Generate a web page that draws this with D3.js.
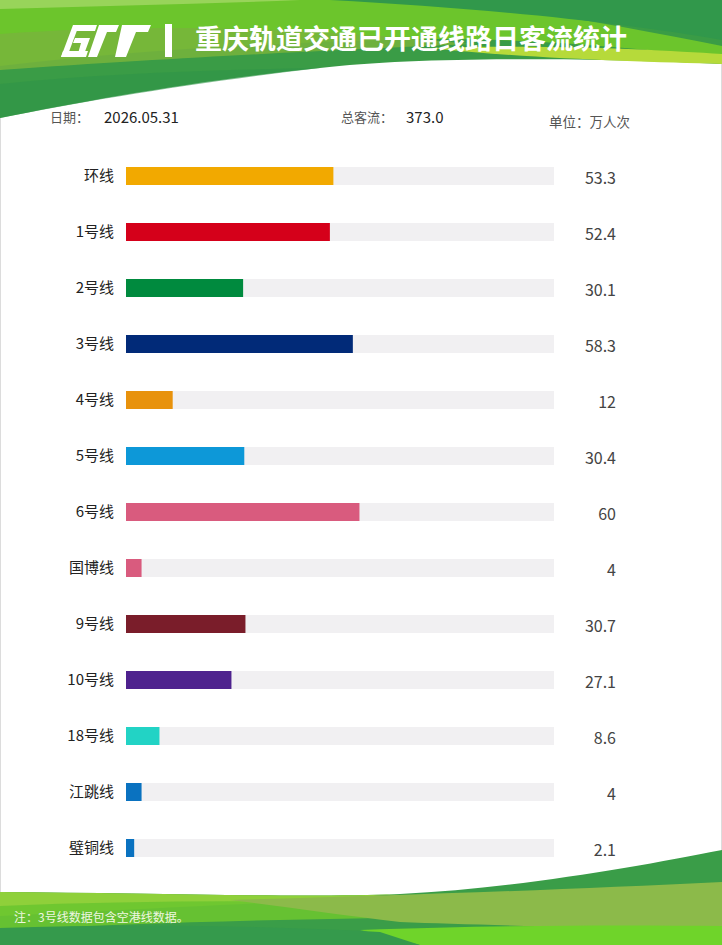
<!DOCTYPE html>
<html>
<head>
<meta charset="utf-8">
<script src="https://cdn.jsdelivr.net/npm/d3@7/dist/d3.min.js"></script>
<style>
html,body{margin:0;padding:0;background:#fff;}
svg{display:block;}
text{font-family:"Noto Sans CJK SC","Noto Sans",sans-serif;}
</style>
</head>
<body>
<div id="chart"></div>
<script>
const lines = ["环线","1号线","2号线","3号线","4号线","5号线","6号线","国博线","9号线","10号线","18号线","江跳线","璧铜线"];
const flows = [53.3,52.4,30.1,58.3,12,30.4,60,4,30.7,27.1,8.6,4,2.1];
const valueLabels = ["53.3","52.4","30.1","58.3","12","30.4","60","4","30.7","27.1","8.6","4","2.1"];
const lineColors = ["#f2a900","#d5001a","#008a3e","#012a78","#e8920c","#0d98d8","#d95b7e","#d95b7e","#7a1d2a","#4e228e","#22d3c5","#0a72c0","#0a72c0"];
const title = "重庆轨道交通已开通线路日客流统计";
const dateLabel = "日期：", dateValue = "2026.05.31";
const totalLabel = "总客流：", totalValue = "373.0";
const unitLabel = "单位：万人次";
const note = "注：3号线数据包含空港线数据。";

const W = 722, H = 945;
const svg = d3.select("#chart").append("svg").attr("width", W).attr("height", H);

svg.append("rect").attr("x",0.5).attr("y",0.5).attr("width",W-1).attr("height",H-1)
  .attr("fill","#fff").attr("stroke","#dcdcdc");

// ---------- header decoration ----------
const hdr = svg.append("g");
hdr.append("path").attr("d","M0,0 H722 V64 C600,58 420,56 320,68 C200,80 90,100 0,118 Z").attr("fill","#3a9c46");
hdr.append("path").attr("d","M0,0 H430 C540,10 640,30 722,46 V58 C620,46 500,36 380,40 C250,44 120,52 0,66 Z").attr("fill","#6cc52c");
hdr.append("path").attr("d","M0,34 C140,24 300,26 470,44 C340,50 200,56 0,70 Z").attr("fill","#78b43c").attr("opacity",0.85);
hdr.append("path").attr("d","M330,0 H722 V40 C620,22 480,8 330,0 Z").attr("fill","#31984b");
hdr.append("path").attr("d","M430,48 C560,44 660,50 722,54 V64 C640,62 520,58 430,48 Z").attr("fill","#b6da3a");
hdr.append("path").attr("d","M0,0 H300 C200,4 100,6 0,9 Z").attr("fill","#98d45a");
hdr.append("path").attr("d","M0,84 C100,74 200,70 320,68 C200,82 90,100 0,118 Z").attr("fill","#2f9447").attr("opacity",0.6);

// logo
const logo = svg.append("g").attr("fill","#fff");
[
 "M75,25 L97,25 L95,31 L73,31 Z",
 "M73,25 L79,25 L67,57 L61,57 Z",
 "M63,51 L88,51 L86,57 L61,57 Z",
 "M75,38 L90,38 L83,57 L77,57 L81,43 L73,43 Z",
 "M99,25 L119,25 L116,32 L107,32 L97,57 L88,57 Z",
 "M122,25 L151,25 L148,32 L136,32 L126,57 L115,57 Z"
].forEach(d => logo.append("path").attr("d", d));
svg.append("rect").attr("x",165).attr("y",24).attr("width",7).attr("height",33).attr("fill","#fff");

svg.append("text").attr("x",195).attr("y",49).attr("fill","#fff")
  .attr("font-size",27).attr("font-weight","bold").text(title);

// ---------- footer decoration ----------
const ftr = svg.append("g");
ftr.append("path").attr("d","M0,892 C150,893 300,898 400,894 C520,888 640,866 722,850 V945 H0 Z").attr("fill","#3a9d48");
ftr.append("path").attr("d","M0,892 C150,893 300,898 400,894 C300,902 200,906 120,910 C80,912 40,914 0,916 Z").attr("fill","#8fd03a");
ftr.append("path").attr("d","M0,906 C150,900 300,900 460,905 C560,905 650,900 722,895 V925 C600,926 500,922 380,918 C250,920 120,924 0,930 Z").attr("fill","#6cc530").attr("opacity",0.9);
ftr.append("path").attr("d","M230,900 C380,896 560,890 722,882 V930 C600,928 480,925 400,922 C340,915 280,906 230,900 Z").attr("fill","#8cba4a");
ftr.append("path").attr("d","M360,930 C500,925 620,925 722,926 V945 H420 Z").attr("fill","#6fd42a");
ftr.append("path").attr("d","M0,928 C120,924 250,925 380,932 L420,945 H0 Z").attr("fill","#359a4c");

svg.append("text").attr("x",14).attr("y",922).attr("fill","#eef7e0").attr("font-size",12).text(note);

// ---------- info row ----------
const info = svg.append("g");
info.append("text").attr("x",50).attr("y",122).attr("font-size",13).attr("fill","#555").text(dateLabel);
info.append("text").attr("x",104).attr("y",123).attr("font-size",15).attr("fill","#222").text(dateValue);
info.append("text").attr("x",341).attr("y",122).attr("font-size",13).attr("fill","#555").text(totalLabel);
info.append("text").attr("x",406).attr("y",123).attr("font-size",15).attr("fill","#222").text(totalValue);
info.append("text").attr("x",549).attr("y",127).attr("font-size",13.5).attr("fill","#555").text(unitLabel);

// ---------- bars ----------
const y = d3.scaleBand().domain(lines).range([148, 148 + 56*lines.length])
  .paddingInner(38/56).paddingOuter(19/56);
const x = d3.scaleLinear().domain([0, 110]).range([126, 554]);

const rows = svg.append("g").selectAll("g").data(lines).join("g");
rows.append("rect").attr("x", x(0)).attr("y", d => y(d))
  .attr("width", x(110) - x(0)).attr("height", y.bandwidth()).attr("fill","#f1f0f2");
rows.append("rect").attr("x", x(0)).attr("y", d => y(d))
  .attr("width", (d,i) => x(flows[i]) - x(0)).attr("height", y.bandwidth())
  .attr("fill", (d,i) => lineColors[i]);
rows.append("text").attr("x",114).attr("y", d => y(d) + y.bandwidth()/2 + 5)
  .attr("text-anchor","end").attr("font-size",15).attr("fill","#222").text(d => d);
rows.append("text").attr("x",616).attr("y", d => y(d) + y.bandwidth()/2 + 8)
  .attr("text-anchor","end").attr("font-size",16).attr("fill","#444")
  .text((d,i) => valueLabels[i]);
</script>
</body>
</html>
